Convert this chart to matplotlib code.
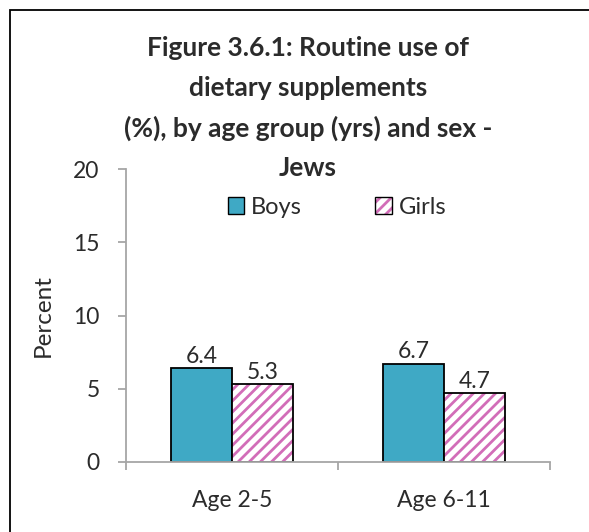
import numpy as np
import matplotlib
matplotlib.use("Agg")
from matplotlib import pyplot as plt
from matplotlib.patches import Rectangle, Patch

# data
categories = ["Age 2-5", "Age 6-11"]
boys = [6.4, 6.7]
girls = [5.3, 4.7]
title_lines = ["Figure 3.6.1: Routine use of", "dietary supplements",
               "(%), by age group (yrs) and sex -", "Jews"]

plt.rcParams["font.family"] = ["Lato", "DejaVu Sans"]
plt.rcParams["hatch.linewidth"] = 2.0
txt = "#2b2b2b"
grey = "#A6A6A6"
teal = "#3FA9C5"
pink = "#D26DB8"
fs = 16.5

W, H = 589, 532
fig = plt.figure(figsize=(W / 100, H / 100), dpi=100)
ax = fig.add_axes([126 / W, 1 - 462 / H, (550 - 126) / W, (462 - 169) / H])

x = np.arange(len(categories))
bw = 0.288
b1 = ax.bar(x - bw / 2, boys, bw, color=teal, edgecolor="black", linewidth=1.3, label="Boys")
# girls: pink hatch layer, then the black outline on top
ax.bar(x + bw / 2, girls, bw, color="white", edgecolor=pink, linewidth=0, hatch="///")
b2 = ax.bar(x + bw / 2, girls, bw, fill=False, edgecolor="black", linewidth=1.3, label="Girls")
ax.bar_label(b1, fmt="%.1f", padding=1, fontsize=fs, color=txt)
ax.bar_label(b2, fmt="%.1f", padding=1, fontsize=fs, color=txt)

ax.set_xlim(-0.5, 1.5)
ax.set_ylim(0, 20)
ax.set_yticks([0, 5, 10, 15, 20])
ax.set_xticks(x)
ax.set_xticklabels(categories)
ax.set_xticks([-0.5, 0.5, 1.5], minor=True)
ax.tick_params(axis="x", which="major", length=0, pad=20, labelsize=fs, labelcolor=txt)
ax.tick_params(axis="x", which="minor", length=6, width=1.3, color=grey)
ax.tick_params(axis="y", length=6, width=1.3, color=grey, pad=13, labelsize=fs, labelcolor=txt)
for s in ["top", "right"]:
    ax.spines[s].set_visible(False)
for s in ["left", "bottom"]:
    ax.spines[s].set_color(grey)
    ax.spines[s].set_linewidth(1.3)
ax.set_ylabel("Percent", fontsize=17.5, color=txt, labelpad=14)

# title, one line at a time
for i, line in enumerate(title_lines):
    fig.text(308 / W, 1 - (48 + 40 * i) / H, line, ha="center", va="center",
             fontsize=19, fontweight="bold", color=txt)

h_boys = Patch(facecolor=teal, edgecolor="black", linewidth=1.0)
h_girls = (Patch(facecolor="white", edgecolor=pink, linewidth=0, hatch="///"),
           Patch(fill=False, edgecolor="black", linewidth=1.0))
fig.legend([h_boys, h_girls], ["Boys", "Girls"], loc="center",
           bbox_to_anchor=(337 / W, 1 - 207 / H), ncol=2,
           frameon=False, fontsize=17, handlelength=0.7, handleheight=0.7,
           handletextpad=0.3, columnspacing=3.1, labelcolor=txt)

# chart frame
fig.patches.append(Rectangle((10 / W, -0.1), 1.0, 1.1 - 10 / H, transform=fig.transFigure,
                             fill=False, edgecolor="black", linewidth=1.3))

fig.savefig("out.png", dpi=100)
